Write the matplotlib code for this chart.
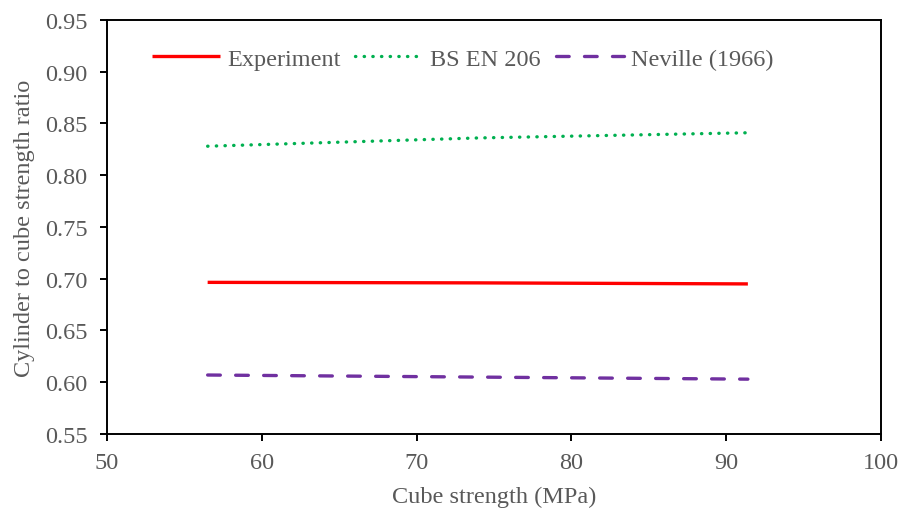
import matplotlib.pyplot as plt

plt.rcParams['font.family'] = ['Liberation Serif', 'DejaVu Serif']

# Cube strength range (MPa) and cylinder/cube ratios
cube_strength = [56.5, 74.0, 91.4]
experiment = [0.6965, 0.696, 0.695]
bs_en_206 = [0.828, 0.836, 0.841]
neville_1966 = [0.607, 0.605, 0.603]

grey = '#595959'
fs = 17.5

fig = plt.figure(figsize=(9.01, 5.10), dpi=100)
ax = fig.add_axes([0.1188, 0.147, 0.859, 0.812])

ax.plot(cube_strength, experiment, color='#ff0000', linewidth=2.4,
        solid_capstyle='butt', label='Experiment')
ax.plot(cube_strength, bs_en_206, color='#00b050', linewidth=2.4,
        linestyle=(0, (0.1, 2.5)), dash_capstyle='round', label='BS EN 206')
ax.plot(cube_strength, neville_1966, color='#7030a0', linewidth=2.4,
        linestyle=(0, (3.8, 4.6)), dash_capstyle='round', label='Neville (1966)')

ax.set_xlim(50, 100)
ax.set_ylim(0.55, 0.95)
ax.set_xticks(range(50, 101, 10))
ax.set_yticks([0.55 + 0.05 * i for i in range(9)])
ax.yaxis.set_major_formatter(plt.FormatStrFormatter('%.2f'))

for side in ax.spines:
    ax.spines[side].set_linewidth(1.4)
    ax.spines[side].set_color('black')

ax.tick_params(direction='out', length=5, width=1.4, colors='black',
               labelcolor=grey, labelsize=fs)
ax.tick_params(axis='y', pad=9)
ax.tick_params(axis='x', pad=8)

ax.set_xlabel('Cube strength (MPa)', fontsize=fs, color=grey, labelpad=9)
ax.set_ylabel('Cylinder to cube strength ratio', fontsize=fs, color=grey, labelpad=7)

ax.legend(loc='center left', bbox_to_anchor=(0.045, 0.906), borderaxespad=0,
          ncol=3, frameon=False, fontsize=fs, labelcolor=grey,
          handlelength=2.8, handletextpad=0.3, columnspacing=0.6)

fig.savefig('out.png', dpi=100)
